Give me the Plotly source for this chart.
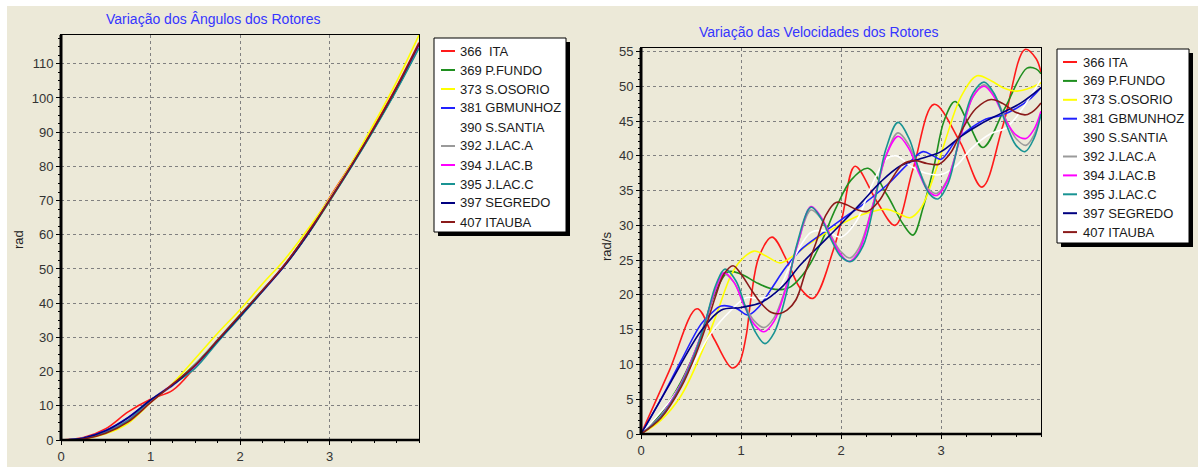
import plotly.graph_objects as go

# ---------------------------------------------------------------- data
NAMES_ANG = ["366  ITA", "369 P.FUNDO", "373 S.OSORIO", "381 GBMUNHOZ", "390 S.SANTIA",
             "392 J.LAC.A", "394 J.LAC.B", "395 J.LAC.C", "397 SEGREDO", "407 ITAUBA"]
NAMES_VEL = ["366 ITA", "369 P.FUNDO", "373 S.OSORIO", "381 GBMUNHOZ", "390 S.SANTIA",
             "392 J.LAC.A", "394 J.LAC.B", "395 J.LAC.C", "397 SEGREDO", "407 ITAUBA"]
COLORS = ["#ff1a1a", "#1f8f1f", "#ffff00", "#2020ff", "#ffffff",
          "#9a9a9a", "#ff00ff", "#199393", "#000080", "#8b1a1a"]
X_TICKS = [0, 1, 2, 3]

# rotor angles (rad), sampled every 0.25 s
ANG_T = [0, 0.25, 0.5, 0.75, 1, 1.25, 1.5, 1.75, 2, 2.25, 2.5, 2.75, 3, 3.25, 3.5, 3.75, 4]
ANG_ITA = [0, 0.7, 3.3, 8.2, 11.9, 14.6, 21.4, 29.0, 36.0, 43.6, 51.2, 60.4, 70.8, 81.0, 91.8, 103.4, 116.2]
ANG_PFUNDO = [0, 0.4, 2.2, 5.6, 11.4, 16.3, 22.2, 29.3, 36.5, 43.8, 51.0, 59.8, 69.8, 80.2, 91.0, 102.5, 114.8]
ANG_SOSORIO = [0, 0.3, 1.8, 4.9, 10.9, 16.6, 23.8, 31.2, 38.1, 45.6, 52.8, 61.3, 70.6, 81.1, 92.6, 104.8, 118.4]
ANG_GBMUNHOZ = [0, 0.6, 2.8, 6.6, 11.6, 16.0, 21.8, 28.9, 36.1, 43.4, 51.0, 59.9, 70.2, 80.4, 91.2, 102.8, 115.6]
ANG_SSANTIA = [0, 0.5, 2.5, 6.1, 11.5, 16.1, 22.0, 29.2, 36.3, 43.5, 51.1, 60.1, 70.2, 80.4, 91.3, 102.9, 115.8]
ANG_JLACA = [0, 0.4, 2.3, 5.8, 11.5, 16.2, 21.6, 29.0, 36.2, 43.5, 51.2, 60.1, 70.0, 80.3, 91.2, 102.7, 115.2]
ANG_JLACB = [0, 0.4, 2.3, 5.8, 11.6, 16.3, 21.5, 29.1, 36.2, 43.6, 51.3, 60.2, 70.1, 80.4, 91.3, 102.8, 115.4]
ANG_JLACC = [0, 0.4, 2.2, 5.7, 11.6, 16.2, 21.0, 28.6, 35.9, 43.4, 51.2, 60.2, 69.9, 80.1, 90.9, 102.3, 114.6]
ANG_SEGREDO = [0, 0.6, 2.7, 6.5, 11.7, 16.1, 21.9, 29.0, 36.2, 43.5, 51.0, 59.9, 70.1, 80.4, 91.3, 103.0, 115.8]
ANG_ITAUBA = [0, 0.3, 2.0, 5.3, 10.9, 16.4, 21.9, 29.2, 36.5, 43.7, 51.3, 60.3, 70.1, 80.5, 91.4, 103.1, 116.0]

# rotor speeds (rad/s)
VEL_ITA_T = [0, 0.28, 0.56, 0.73, 0.91, 0.98, 1.05, 1.1, 1.18, 1.31, 1.46, 1.59, 1.72, 1.92, 2.01, 2.14,
             2.36, 2.54, 2.72, 2.93, 3.19, 3.41, 3.62, 3.84, 3.95, 4.0]
VEL_ITA = [0, 9, 18, 13.7, 9.5, 10.2, 14, 19.5, 25.5, 28.3, 24.9, 21, 19.5, 26.3, 31, 38.5,
           33.4, 30.0, 38.1, 47.4, 42, 35.5, 44.4, 55.3, 54, 52]

VEL_PFUNDO_T = [0, 0.2, 0.4, 0.6, 0.72, 0.87, 1.0, 1.15, 1.3, 1.42, 1.5, 1.65, 1.8, 1.95, 2.1, 2.27,
                2.46, 2.62, 2.72, 2.82, 2.93, 3.03, 3.14, 3.28, 3.42, 3.64, 3.86, 3.95, 4.0]
VEL_PFUNDO = [0, 3, 7.5, 14, 19.5, 23.3, 23, 21.8, 20.9, 20.8, 21.2, 23.5, 27.5, 32.5, 36.5, 38.2,
              34.4, 30.2, 28.6, 32.5, 38.5, 45, 47.8, 44.5, 41.2, 46.9, 52.6, 52.5, 51.8]

VEL_SOSORIO_T = [0, 0.2, 0.4, 0.6, 0.75, 0.9, 1.0, 1.13, 1.25, 1.39, 1.5, 1.69, 1.99, 2.2, 2.46, 2.59,
                 2.69, 2.8, 2.95, 3.05, 3.2, 3.36, 3.5, 3.62, 3.76, 3.9, 4.0]
VEL_SOSORIO = [0, 2, 5.5, 11.5, 17, 22.8, 25, 26.3, 25.6, 24.6, 25.4, 27.4, 30.1, 31.5, 32.3, 31.6,
               31.1, 32.5, 38, 42.5, 48.5, 51.5, 50.8, 49.8, 49.3, 49.8, 50.5]

VEL_GBMUNHOZ_T = [0, 0.2, 0.4, 0.6, 0.7, 0.8, 0.95, 1.07, 1.18, 1.3, 1.45, 1.6, 1.8, 2.0, 2.2, 2.46,
                  2.66, 2.82, 2.92, 3.0, 3.15, 3.3, 3.45, 3.6, 3.75, 3.9, 4.0]
VEL_GBMUNHOZ = [0, 5, 10.5, 15.8, 17.3, 18.4, 18.1, 17.1, 18.3, 20.8, 24, 26.5, 28.7, 30.8, 32.8, 35.8,
                38.7, 40.6, 40, 39.5, 42.2, 44, 45.3, 45.8, 46.8, 48.3, 49.8]

VEL_SSANTIA_T = [0, 0.3, 0.5, 0.7, 0.9, 1.05, 1.2, 1.35, 1.5, 1.7, 1.85, 2.0, 2.15, 2.3, 2.45, 2.55,
                 2.7, 2.85, 3.0, 3.15, 3.3, 3.5, 3.65, 3.8, 4.0]
VEL_SSANTIA = [0, 5, 9.5, 14.5, 17.8, 19.6, 19.5, 20.2, 24.5, 29, 29.2, 28.3, 30.5, 35.5, 39.5, 40,
               38.5, 37.5, 37.3, 38.5, 41, 43.2, 44, 46.5, 51]

VEL_JLACA_T = [0, 0.2, 0.4, 0.55, 0.65, 0.75, 0.83, 0.93, 1.03, 1.13, 1.23, 1.33, 1.45, 1.57, 1.7, 1.8,
               1.9, 2.0, 2.09, 2.18, 2.32, 2.45, 2.57, 2.68, 2.78, 2.87, 2.96, 3.06, 3.2, 3.32, 3.43,
               3.53, 3.64, 3.75, 3.85, 3.93, 4.0]
VEL_JLACA = [0, 2.6, 7.2, 12.2, 16.5, 21, 23, 21.8, 18.8, 16.3, 15.3, 16.7, 21.2, 27.5, 32.2, 31,
             28.5, 26.2, 25.3, 26.8, 33, 40, 43.3, 41.5, 38, 35.3, 34.6, 36.5, 43, 48.5, 50.2,
             48.8, 45.5, 42.5, 41.5, 43, 46.2]

VEL_JLACB_T = [0, 0.2, 0.4, 0.55, 0.65, 0.75, 0.83, 0.93, 1.03, 1.13, 1.23, 1.33, 1.45, 1.57, 1.7, 1.8,
               1.9, 2.0, 2.08, 2.18, 2.32, 2.45, 2.57, 2.68, 2.78, 2.87, 2.96, 3.06, 3.2, 3.32, 3.43,
               3.53, 3.64, 3.75, 3.85, 3.93, 4.0]
VEL_JLACB = [0, 2.6, 7.2, 12.2, 16.5, 21, 23.2, 21.8, 18.5, 15.8, 14.7, 16.2, 21, 27.5, 32.7, 31.2,
             28.3, 25.8, 24.8, 26.3, 33, 40, 42.8, 41, 37.5, 35, 34.3, 36.3, 43, 48.5, 50.0,
             48.5, 45.3, 43, 42.5, 43.8, 46.4]

VEL_JLACC_T = [0, 0.2, 0.4, 0.55, 0.65, 0.75, 0.84, 0.95, 1.05, 1.15, 1.24, 1.33, 1.45, 1.55, 1.7, 1.8,
               1.9, 2.0, 2.1, 2.22, 2.33, 2.45, 2.57, 2.68, 2.78, 2.88, 2.97, 3.07, 3.2, 3.32, 3.43,
               3.53, 3.64, 3.75, 3.84, 3.93, 4.0]
VEL_JLACC = [0, 2.5, 7, 12, 16.5, 21.5, 23.7, 22, 18, 14.5, 13.0, 14.5, 20, 26.8, 32.6, 31,
             28, 25.5, 24.8, 27, 33, 41, 44.8, 42.5, 38, 34.6, 33.8, 36, 43.5, 49, 50.6,
             49, 45, 41.5, 40.6, 42.5, 46]

VEL_SEGREDO_T = [0, 0.3, 0.6, 0.8, 1.0, 1.2, 1.4, 1.6, 1.8, 2.0, 2.2, 2.4, 2.6, 2.8, 3.0, 3.2,
                 3.4, 3.6, 3.8, 4.0]
VEL_SEGREDO = [0, 7.5, 14.8, 17.8, 18.2, 18.9, 21, 24.4, 27.3, 30.2, 33.2, 36.3, 38.6, 39.6, 40.6, 42.8,
               44.6, 46.1, 47.6, 49.8]

VEL_ITAUBA_T = [0, 0.2, 0.4, 0.55, 0.65, 0.75, 0.83, 0.92, 1.0, 1.1, 1.2, 1.3, 1.38, 1.46, 1.55, 1.65,
                1.75, 1.85, 1.95, 2.05, 2.15, 2.26, 2.38, 2.5, 2.62, 2.74, 2.86, 2.98, 3.1, 3.22,
                3.35, 3.5, 3.62, 3.74, 3.85, 3.93, 4.0]
VEL_ITAUBA = [0, 2.3, 6.7, 11.5, 15.5, 20, 23, 24.2, 23.0, 20.8, 18.8, 17.5, 17.3, 17.8, 19.3, 23.5,
              27.5, 31.5, 33.3, 33, 32.3, 32, 33.5, 36.5, 38.8, 39.3, 38.9, 38.8, 40.5, 44,
              46.8, 48.1, 47.5, 46.3, 45.9, 46.5, 47.6]

ANGLES = [ANG_ITA, ANG_PFUNDO, ANG_SOSORIO, ANG_GBMUNHOZ, ANG_SSANTIA,
          ANG_JLACA, ANG_JLACB, ANG_JLACC, ANG_SEGREDO, ANG_ITAUBA]
SPEEDS = [(VEL_ITA_T, VEL_ITA), (VEL_PFUNDO_T, VEL_PFUNDO), (VEL_SOSORIO_T, VEL_SOSORIO),
          (VEL_GBMUNHOZ_T, VEL_GBMUNHOZ), (VEL_SSANTIA_T, VEL_SSANTIA), (VEL_JLACA_T, VEL_JLACA),
          (VEL_JLACB_T, VEL_JLACB), (VEL_JLACC_T, VEL_JLACC), (VEL_SEGREDO_T, VEL_SEGREDO),
          (VEL_ITAUBA_T, VEL_ITAUBA)]

TITLE_ANG = "Variação dos Ângulos dos Rotores"
TITLE_VEL = "Variação das Velocidades dos Rotores"

# ---------------------------------------------------------------- layout helpers
W, H = 1198, 467
BG = "#ECE9D8"
FONT = "Liberation Sans, Arial, sans-serif"


def px(x):
    return x / W


def py(y):
    return 1 - y / H


fig = go.Figure()

for name, color, ang in zip(NAMES_ANG, COLORS, ANGLES):
    fig.add_trace(go.Scatter(x=ANG_T, y=ang, mode="lines", name=name, xaxis="x", yaxis="y",
                             line=dict(color=color, width=1.6, shape="spline"), showlegend=False))

for name, color, (t, v) in zip(NAMES_VEL, COLORS, SPEEDS):
    fig.add_trace(go.Scatter(x=t, y=v, mode="lines", name=name, xaxis="x2", yaxis="y2",
                             line=dict(color=color, width=1.6, shape="spline"), showlegend=False))


def axis(domain, rng, dtick, minor, anchor, tickvals=None):
    ax = dict(domain=domain, range=rng, dtick=dtick, tick0=0, anchor=anchor, automargin=False,
              showgrid=True, gridcolor="#808080", gridwidth=1, griddash="3px,3px",
              zeroline=False, showline=True, linecolor="black", linewidth=1, mirror=True,
              ticks="outside", ticklen=4, tickcolor="black", tickwidth=1,
              minor=dict(dtick=minor, tick0=0, ticks="outside", ticklen=2, tickcolor="black",
                         showgrid=False),
              tickfont=dict(family=FONT, size=13, color="#333333"), fixedrange=True)
    if tickvals is not None:
        ax["tickmode"] = "array"
        ax["tickvals"] = tickvals
    return ax


shapes = [dict(type="rect", xref="paper", yref="paper", x0=px(7), x1=1, y0=0, y1=py(6),
               fillcolor=BG, line=dict(width=0), layer="below")]

# heavy left/bottom axis lines
for xr, yr in (("x domain", "y domain"), ("x2 domain", "y2 domain")):
    shapes.append(dict(type="line", xref=xr, yref=yr, x0=0, x1=0, y0=0, y1=1,
                       line=dict(color="black", width=3), layer="above"))
    shapes.append(dict(type="line", xref=xr, yref=yr, x0=0, x1=1, y0=0, y1=0,
                       line=dict(color="black", width=2.5), layer="above"))

annotations = [
    dict(text=TITLE_ANG, x=px(213), y=py(19), xref="paper", yref="paper", showarrow=False,
         xanchor="center", yanchor="middle", font=dict(family=FONT, size=14, color="#3535ff")),
    dict(text=TITLE_VEL, x=px(818), y=py(32), xref="paper", yref="paper", showarrow=False,
         xanchor="center", yanchor="middle", font=dict(family=FONT, size=14, color="#3535ff")),
    dict(text="rad", x=px(18), y=py(240), xref="paper", yref="paper", showarrow=False,
         textangle=-90, xanchor="center", yanchor="middle", font=dict(family=FONT, size=13, color="#222222")),
    dict(text="rad/s", x=px(606), y=py(247), xref="paper", yref="paper", showarrow=False,
         textangle=-90, xanchor="center", yanchor="middle", font=dict(family=FONT, size=13, color="#222222")),
]


def legend_box(names, x0, x1, y0, y1, first, step, lx0, lx1, tx):
    shapes.append(dict(type="rect", xref="paper", yref="paper", x0=px(x0 + 4), x1=px(x1 + 4),
                       y0=py(y1 + 4), y1=py(y0 + 4), fillcolor="black", line=dict(width=0), layer="above"))
    shapes.append(dict(type="rect", xref="paper", yref="paper", x0=px(x0), x1=px(x1),
                       y0=py(y1), y1=py(y0), fillcolor="white", line=dict(color="black", width=1),
                       layer="above"))
    for i, (name, color) in enumerate(zip(names, COLORS)):
        yy = first + i * step
        shapes.append(dict(type="line", xref="paper", yref="paper", x0=px(lx0), x1=px(lx1),
                           y0=py(yy), y1=py(yy), line=dict(color=color, width=2), layer="above"))
        annotations.append(dict(text=name, x=px(tx), y=py(yy), xref="paper", yref="paper",
                                showarrow=False, xanchor="left", yanchor="middle",
                                font=dict(family=FONT, size=13, color="#1a1a1a")))


legend_box(NAMES_ANG, 434, 566, 38, 232, 51, 19, 441, 455, 458)
legend_box(NAMES_VEL, 1057, 1189, 49, 243, 62, 18.9, 1063, 1077, 1081)

fig.update_layout(
    width=W, height=H, margin=dict(l=0, r=0, t=0, b=0, autoexpand=False),
    paper_bgcolor="white", plot_bgcolor=BG, showlegend=False,
    xaxis=axis([px(61), px(419)], [0, 4], 1, 0.25, "y", X_TICKS),
    yaxis=axis([py(440), py(35)], [0, 118.4], 10, 2.5, "x"),
    xaxis2=axis([px(641), px(1041)], [0, 4], 1, 0.25, "y2", X_TICKS),
    yaxis2=axis([py(434), py(48)], [0, 55.5], 5, 1, "x2"),
    shapes=shapes, annotations=annotations,
)

fig.write_html("out.html")
